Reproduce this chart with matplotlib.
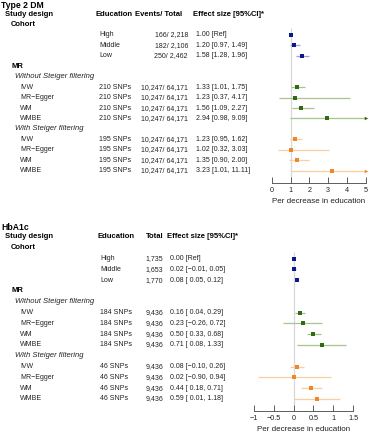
import matplotlib.pyplot as plt

plt.rcParams['font.family'] = ['Liberation Sans', 'DejaVu Sans']

# ---- data: Type 2 DM (odds ratio per decrease in education) ----
methods = ['IVW', 'MR\u2212Egger', 'WM', 'WMBE']
edu_levels = ['High', 'Middle', 'Low']

t2d_cohort_events = ['166/ 2,218', '182/ 2,106', '250/ 2,462']
t2d_cohort_est = [1.00, 1.20, 1.58]
t2d_cohort_lo = [1.00, 0.97, 1.28]
t2d_cohort_hi = [1.00, 1.49, 1.96]
t2d_snps_all = '210 SNPs'
t2d_snps_steiger = '195 SNPs'
t2d_mr_events = '10,247/ 64,171'
t2d_all_est = [1.33, 1.23, 1.56, 2.94]
t2d_all_lo = [1.01, 0.37, 1.09, 0.98]
t2d_all_hi = [1.75, 4.17, 2.27, 9.09]
t2d_st_est = [1.23, 1.02, 1.35, 3.23]
t2d_st_lo = [0.95, 0.32, 0.90, 1.01]
t2d_st_hi = [1.62, 3.03, 2.00, 11.11]
t2d_ticks = [0, 1, 2, 3, 4, 5]

# ---- data: HbA1c (difference per decrease in education) ----
hba_cohort_total = ['1,735', '1,653', '1,770']
hba_cohort_est = [0.00, 0.02, 0.08]
hba_cohort_lo = [0.00, -0.01, 0.05]
hba_cohort_hi = [0.00, 0.05, 0.12]
hba_snps_all = '184 SNPs'
hba_snps_steiger = '46 SNPs'
hba_mr_total = '9,436'
hba_all_est = [0.16, 0.23, 0.50, 0.71]
hba_all_lo = [0.04, -0.26, 0.33, 0.08]
hba_all_hi = [0.29, 0.72, 0.68, 1.33]
hba_st_est = [0.08, 0.02, 0.44, 0.59]
hba_st_lo = [-0.10, -0.90, 0.18, 0.01]
hba_st_hi = [0.26, 0.94, 0.71, 1.18]
hba_ticks = [-1, -0.5, 0, 0.5, 1, 1.5]

# colours
navy, navy_ci = '#0a1a8c', '#9aa3dc'
green, green_ci = '#2f6b12', '#a9c48e'
orange, orange_ci = '#f0862a', '#fbcda0'
txt = '#222222'

W, H = 369, 440
fig = plt.figure(figsize=(W / 100, H / 100), dpi=100)
bg = fig.add_axes([0, 0, 1, 1])
bg.set_xlim(0, W)
bg.set_ylim(H, 0)
bg.axis('off')

FS = 5.0
FSB = 5.5
MS = 2.3


def t(x, y, s, **kw):
    kw.setdefault('fontsize', FS)
    kw.setdefault('color', txt)
    bg.text(x, y, s, va='center', **kw)


def fmt_or(e, lo, hi):
    return f'{e:.2f} [{lo:.2f}, {hi:.2f}]'


def fmt_diff(e, lo, hi):
    s = f'{e:.2f} [{lo:5.2f}, {hi:.2f}]'
    return s.replace('-', '\u2212')


def panel(title, y0, step, cols, count_head, cohort_counts, snps, mr_count,
          cohort, mr_all, mr_st, fmt, ref, axbox, xlim, ticks):
    x_edu, x_cnt_head, x_cnt_right, x_eff_head, x_eff = cols
    rows = [y0 + i * step for i in range(16)]
    t(1, y0 - 9, title, fontsize=6.2, fontweight='bold', color='black')
    t(5, rows[0], 'Study design', fontsize=FSB, fontweight='bold', color='black')
    t(x_edu - 3, rows[0], 'Education', fontsize=FSB, fontweight='bold', color='black')
    t(x_cnt_head, rows[0], count_head, fontsize=FSB, fontweight='bold', color='black')
    t(x_eff_head, rows[0], 'Effect size [95%CI]*', fontsize=FSB, fontweight='bold', color='black')
    t(11, rows[1], 'Cohort', fontsize=FSB, fontweight='bold', color='black')
    t(11, rows[5], 'MR', fontsize=FSB, fontweight='bold', color='black')
    t(15, rows[6], 'Without Steiger filtering', style='italic', fontsize=5.5)
    t(15, rows[11], 'With Steiger filtering', style='italic', fontsize=5.5)

    left, right, top, bottom = axbox
    ax = fig.add_axes([left / W, 1 - bottom / H, (right - left) / W, (bottom - top) / H])
    ax.set_xlim(*xlim)
    ax.set_ylim(bottom, top)
    ax.patch.set_alpha(0)
    ax.vlines(ref, rows[1] + 4, bottom - 6, color='#d8d8d8', lw=0.9, zorder=0)

    est, lo, hi = cohort
    for i in range(3):
        y = rows[2 + i]
        t(x_edu, y, edu_levels[i])
        t(x_cnt_right, y, cohort_counts[i], ha='right')
        lab = fmt(est[i], lo[i], hi[i]) if i > 0 else f'{est[i]:.2f} [Ref]'
        t(x_eff, y, lab)
        ax.plot([lo[i], hi[i]], [y, y], color=navy_ci, lw=0.9, solid_capstyle='butt')
        ax.plot(est[i], y, 's', color=navy, ms=MS, mew=0)

    for k, (block, col, cci, snp) in enumerate([(mr_all, green, green_ci, snps[0]),
                                               (mr_st, orange, orange_ci, snps[1])]):
        est, lo, hi = block
        for i in range(4):
            y = rows[7 + 5 * k + i]
            t(20, y, methods[i])
            t(x_edu, y, snp)
            t(x_cnt_right, y, mr_count, ha='right')
            t(x_eff, y, fmt(est[i], lo[i], hi[i]))
            h = min(hi[i], xlim[1])
            ax.plot([max(lo[i], xlim[0]), h], [y, y], color=cci, lw=0.9,
                    solid_capstyle='butt', clip_on=False)
            if hi[i] > xlim[1]:
                ax.plot(xlim[1], y, '>', color=col, ms=2.5, mew=0, clip_on=False)
            ax.plot(est[i], y, 's', color=col, ms=MS, mew=0, clip_on=False)

    for s in ['top', 'right', 'left']:
        ax.spines[s].set_visible(False)
    ax.spines['bottom'].set_color('#444444')
    ax.spines['bottom'].set_linewidth(0.6)
    ax.set_yticks([])
    ax.set_xticks(ticks)
    ax.set_xticklabels([f'{v:g}'.replace('-', '\u2212') for v in ticks])
    ax.tick_params(axis='x', direction='in', length=4, width=0.6, color='#444444',
                   labelsize=5.2, labelcolor=txt, pad=3)
    ax.set_xlabel('Per decrease in education', fontsize=5.8, color=txt, labelpad=3)
    return ax


panel('Type 2 DM', 14, 10.45, (99, 135, 188, 193, 196), 'Events/ Total',
      t2d_cohort_events, (t2d_snps_all, t2d_snps_steiger), t2d_mr_events,
      (t2d_cohort_est, t2d_cohort_lo, t2d_cohort_hi),
      (t2d_all_est, t2d_all_lo, t2d_all_hi),
      (t2d_st_est, t2d_st_lo, t2d_st_hi),
      fmt_or, 1, (272, 365.5, 24, 183), (0, 5), t2d_ticks)

panel('HbA1c', 237, 10.8, (100, 146, 163, 167, 170), 'Total',
      hba_cohort_total, (hba_snps_all, hba_snps_steiger), hba_mr_total,
      (hba_cohort_est, hba_cohort_lo, hba_cohort_hi),
      (hba_all_est, hba_all_lo, hba_all_hi),
      (hba_st_est, hba_st_lo, hba_st_hi),
      fmt_diff, 0, (254, 353, 248, 411), (-1, 1.5), hba_ticks)

fig.savefig('out.png', dpi=100)
